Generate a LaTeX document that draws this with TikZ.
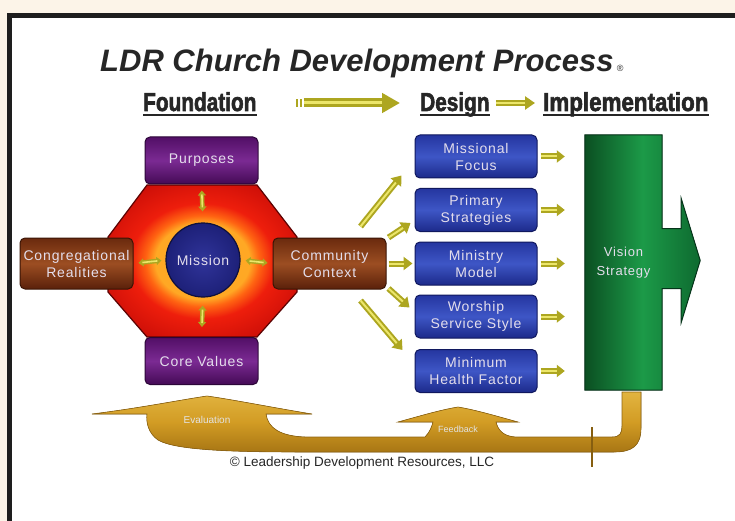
\documentclass[tikz,border=0pt]{standalone}
\usepackage{fontspec}
\setmainfont{Liberation Sans}
\newfontfamily\boxfont{Liberation Sans}[LetterSpace=6]
\newfontfamily\headfont{Liberation Sans Bold}[FakeBold=2.5]
\usetikzlibrary{arrows.meta,calc}

\definecolor{paper}{HTML}{FCF4E8}
\definecolor{frame}{HTML}{1E1E1E}
\definecolor{ink}{HTML}{262626}
\definecolor{purpEdge}{HTML}{2C0638}
\definecolor{purpTop}{HTML}{520F66}
\definecolor{purpMid}{HTML}{7B2A93}
\definecolor{purpBot}{HTML}{440A55}
\definecolor{brnEdge}{HTML}{3A1405}
\definecolor{brnTop}{HTML}{6A2A0E}
\definecolor{brnMid}{HTML}{9C4E22}
\definecolor{brnBot}{HTML}{5A200A}
\definecolor{bluEdge}{HTML}{10185E}
\definecolor{bluTop}{HTML}{2536A0}
\definecolor{bluMid}{HTML}{3E56C6}
\definecolor{bluBot}{HTML}{1C2A8A}
\definecolor{navy}{HTML}{1D2078}
\definecolor{navyIn}{HTML}{30349A}
\definecolor{grnDark}{HTML}{0B4F22}
\definecolor{grnMid}{HTML}{1C9A48}
\definecolor{grnRight}{HTML}{0E6A30}
\definecolor{grnEdge}{HTML}{06341A}
\definecolor{yolive}{HTML}{ADA620}
\definecolor{ylight}{HTML}{ECE66A}
\definecolor{goldMid}{HTML}{D29C24}
\definecolor{goldLt}{HTML}{E2B440}
\definecolor{goldDk}{HTML}{A87614}
\definecolor{boxtext}{HTML}{E4DEEC}
\definecolor{oYel}{HTML}{FFA824}
\definecolor{oOra}{HTML}{FF6412}
\definecolor{oRed}{HTML}{EE1E0C}
\definecolor{oRed2}{HTML}{D01008}
\definecolor{oDrk}{HTML}{900404}
\definecolor{oEdge}{HTML}{5C0202}

% radial glow of the octagon: warm next to the circle, dark red at the rim
\pgfdeclareradialshading{octglow}{\pgfpoint{0bp}{0bp}}{%
  color(0bp)=(oYel); color(12.5bp)=(oYel); color(15bp)=(oOra);
  color(19bp)=(oRed); color(28bp)=(oRed2); color(35bp)=(oDrk); color(50bp)=(oDrk)}

% a yellow arrow: body with tip, then a thin highlight along it
\newcommand\yconn[4]{\draw[#1] #3 -- #4; \draw[#1,#2] #3 -- #4;}

\begin{document}
\begin{tikzpicture}[x=1pt,y=-1pt,
  box/.style={rounded corners=5pt, line width=1pt, minimum width=113pt,
    text=boxtext, align=center, inner sep=0pt,
    font=\boxfont\fontsize{14}{17}\selectfont},
  purp/.style={box, draw=purpEdge, top color=purpTop, bottom color=purpBot,
    middle color=purpMid, minimum height=47pt},
  brn/.style={box, draw=brnEdge, top color=brnTop, bottom color=brnBot,
    middle color=brnMid, minimum height=51pt},
  blu/.style={box, draw=bluEdge, top color=bluTop, bottom color=bluBot,
    middle color=bluMid, minimum width=122pt, minimum height=43pt},
  head/.style={anchor=base west, inner sep=0pt, text=ink,
    font=\headfont\fontsize{26}{26}\selectfont},
  ulin/.style={line width=2.2pt, draw=ink},
  harr/.style={draw=yolive, line width=9pt, -{Triangle[length=18pt,width=19pt]}},
  hshine/.style={-, draw=ylight, line width=3pt, shorten >=18pt},
  h2arr/.style={draw=yolive, line width=6pt, -{Triangle[length=10pt,width=13pt]}},
  h2shine/.style={-, draw=ylight, line width=2pt, shorten >=10pt},
  oarr/.style={draw=yolive, line width=4.5pt,
    {Triangle[length=5pt,width=8pt]}-{Triangle[length=5pt,width=8pt]}},
  oshine/.style={-, draw=ylight, line width=1.6pt},
  darr/.style={draw=yolive, line width=6pt, -{Triangle[length=9pt,width=13pt]}},
  dshine/.style={-, draw=ylight, line width=2pt, shorten >=9pt},
  sarr/.style={draw=yolive, line width=6pt, -{Triangle[length=8pt,width=12pt]},
    shorten <=3pt, shorten >=20pt},
  sshine/.style={-, draw=ylight, line width=2pt, shorten <=3pt, shorten >=28pt},
  lbl/.style={inner sep=0pt, font=\fontsize{10}{10}\selectfont, text=white!78!gray}
]
\useasboundingbox (0,0) rectangle (735,521);

% page, white sheet and its frame
\fill[paper] (0,0) rectangle (735,521);
\fill[white] (12,18) rectangle (735,521);
\draw[frame, line width=5pt] (9.5,521) -- (9.5,15.5) -- (735,15.5);

% title
\node[anchor=base west, inner sep=0pt, text=ink,
  font=\bfseries\itshape\fontsize{31}{31}\selectfont] (title) at (100,72)
  {LDR Church Development Process};
\node[anchor=base west, inner sep=0pt, text=ink, font=\fontsize{9}{9}\selectfont]
  (reg) at ($(title.base east)+(3,0)$) {®};

% phase headings
\node[head] (found) at (143,111) {\scalebox{0.8}[1]{Foundation}};
\node[head] (des) at (420,111) {\scalebox{0.8}[1]{Design}};
\node[head] (impl) at (543,111) {\scalebox{0.86}[1]{Implementation}};
\foreach \h in {found,des,impl}{
  \draw[ulin] ($(\h.base west)+(0,4)$) -- ($(\h.base east)+(0,4)$);
}

\coordinate (h1s) at ($(found.base east)+(47,-8)$);
\coordinate (h1e) at ($(des.base west)+(-20,-8)$);
\fill[yolive] ($(h1s)+(-8,-4)$) rectangle ++(2,8);
\fill[yolive] ($(h1s)+(-4,-4)$) rectangle ++(2,8);
\yconn{harr}{hshine}{(h1s)}{(h1e)}
\coordinate (h2s) at ($(des.base east)+(6,-8)$);
\coordinate (h2e) at ($(impl.base west)+(-8,-8)$);
\yconn{h2arr}{h2shine}{(h2s)}{(h2e)}

% foundation: glowing octagon behind the four boxes
\shadedraw[shading=octglow, draw=oEdge, line width=1.2pt]
  (147,185) -- (257,185) -- (297,237) -- (297,292) -- (257,337)
  -- (147,337) -- (108,292) -- (108,237) -- cycle;

\node[purp] (purp) at (201.5,160.5) {Purposes};
\node[purp] (core) at (201.5,361) {Core Values};
\node[brn] (cong) at (76.5,263.5) {Congregational\\Realities};
\node[brn] (comm) at (329.5,263.5) {Community\\Context};
\node[circle, minimum size=74pt, inner sep=0pt, draw=navy!50!black,
  line width=1.2pt, inner color=navyIn, outer color=navy, text=boxtext,
  font=\boxfont\fontsize{14}{17}\selectfont] (mis) at (203,260) {Mission};

\yconn{oarr,shorten <=6pt,shorten >=11pt}{oshine,shorten <=10pt,shorten >=15pt}{(purp.south)}{(mis.north)}
\yconn{oarr,shorten <=10pt,shorten >=8pt}{oshine,shorten <=14pt,shorten >=12pt}{(core.north)}{(mis.south)}
\yconn{oarr,shorten <=5pt,shorten >=4pt}{oshine,shorten <=9pt,shorten >=8pt}{(cong.east)}{(mis.west)}
\yconn{oarr,shorten <=5pt,shorten >=5pt}{oshine,shorten <=9pt,shorten >=9pt}{(mis.east)}{(comm.west)}

% design
\node[blu] (mf) at (476,156.5) {Missional\\Focus};
\node[blu] (ps) at (476,210) {Primary\\Strategies};
\node[blu] (mm) at (476,263.5) {Ministry\\Model};
\node[blu] (wss) at (476,316.5) {Worship\\Service Style};
\node[blu] (mhf) at (476,371) {Minimum\\Health Factor};

\coordinate (f1) at ($(comm.north east)+(-26,-11)$);
\coordinate (f2) at ($(comm.north east)+(2,0)$);
\coordinate (f4) at ($(comm.south east)+(2,-1)$);
\coordinate (f5) at ($(comm.south east)+(-26,11)$);
\coordinate (t1) at ($(mf.south west)+(-13,-3)$);
\coordinate (t2) at ($(ps.south west)+(-4,-9)$);
\coordinate (t4) at ($(wss.west)+(-5,-9)$);
\coordinate (t5) at ($(mhf.north west)+(-12,1)$);
\yconn{darr}{dshine}{(f1)}{(t1)}
\yconn{darr}{dshine}{(f2)}{(t2)}
\yconn{darr,shorten <=2pt,shorten >=2pt}{dshine,shorten <=2pt,shorten >=11pt}{(comm.east)}{(mm.west)}
\yconn{darr}{dshine}{(f4)}{(t4)}
\yconn{darr}{dshine}{(f5)}{(t5)}

% implementation: vision arrow
\node[minimum width=77pt, minimum height=255pt, inner sep=0pt] (visbox) at (623.5,262.5) {};
\filldraw[draw=grnEdge, line width=1pt, left color=grnDark, right color=grnRight, middle color=grnMid]
  (visbox.north west) -- (visbox.north east) -- ($(visbox.east)+(0,-34)$)
  -- ($(visbox.east)+(19,-34)$) -- ($(visbox.east)+(19,-64)$)
  -- ($(visbox.east)+(38,-2)$) -- ($(visbox.east)+(19,60)$)
  -- ($(visbox.east)+(19,26)$) -- ($(visbox.east)+(0,26)$)
  -- (visbox.south east) -- (visbox.south west) -- cycle;
\node[text=boxtext, align=center, inner sep=0pt,
  font=\boxfont\fontsize{13}{19}\selectfont] (vis) at (visbox.center) {Vision\\Strategy};

\foreach \b in {mf,ps,mm,wss,mhf}{
  \yconn{sarr}{sshine}{(\b.east)}{(\b.east -| visbox.west)}
}

% feedback loop along the bottom
\filldraw[draw=goldDk!85!black, line width=0.6pt, top color=goldLt, bottom color=goldDk, middle color=goldMid]
  (641,392) -- (641,428)
  .. controls (641,446) and (632,452) .. (614,452)
  -- (300,452)
  .. controls (230,452) and (175,450) .. (158,440)
  .. controls (148,433) and (146,422) .. (147,414)
  -- (92,414)
  .. controls (140,408) and (180,400) .. (207,396)
  .. controls (235,400) and (275,408) .. (312,414)
  -- (266,414)
  .. controls (268,428) and (280,436) .. (305,437)
  -- (425,437)
  .. controls (430,432) and (432,426) .. (433,422)
  -- (398,422)
  .. controls (420,416) and (440,410) .. (458,407)
  .. controls (476,410) and (496,416) .. (518,422)
  -- (496,422)
  .. controls (498,430) and (503,436) .. (515,437)
  -- (612,437)
  .. controls (620,437) and (622,433) .. (622,426)
  -- (622,392) -- cycle;
\draw[goldDk!80!black, line width=1.2pt] (592,427) -- (592,467);
\node[lbl] (evl) at (207,420) {Evaluation};
\node[lbl, font=\fontsize{9}{9}\selectfont] (fdb) at (458,429) {Feedback};

\node[inner sep=0pt, text=ink, font=\fontsize{13.5}{13.5}\selectfont] (copy) at (362,463)
  {© Leadership Development Resources, LLC};
\end{tikzpicture}
\end{document}
